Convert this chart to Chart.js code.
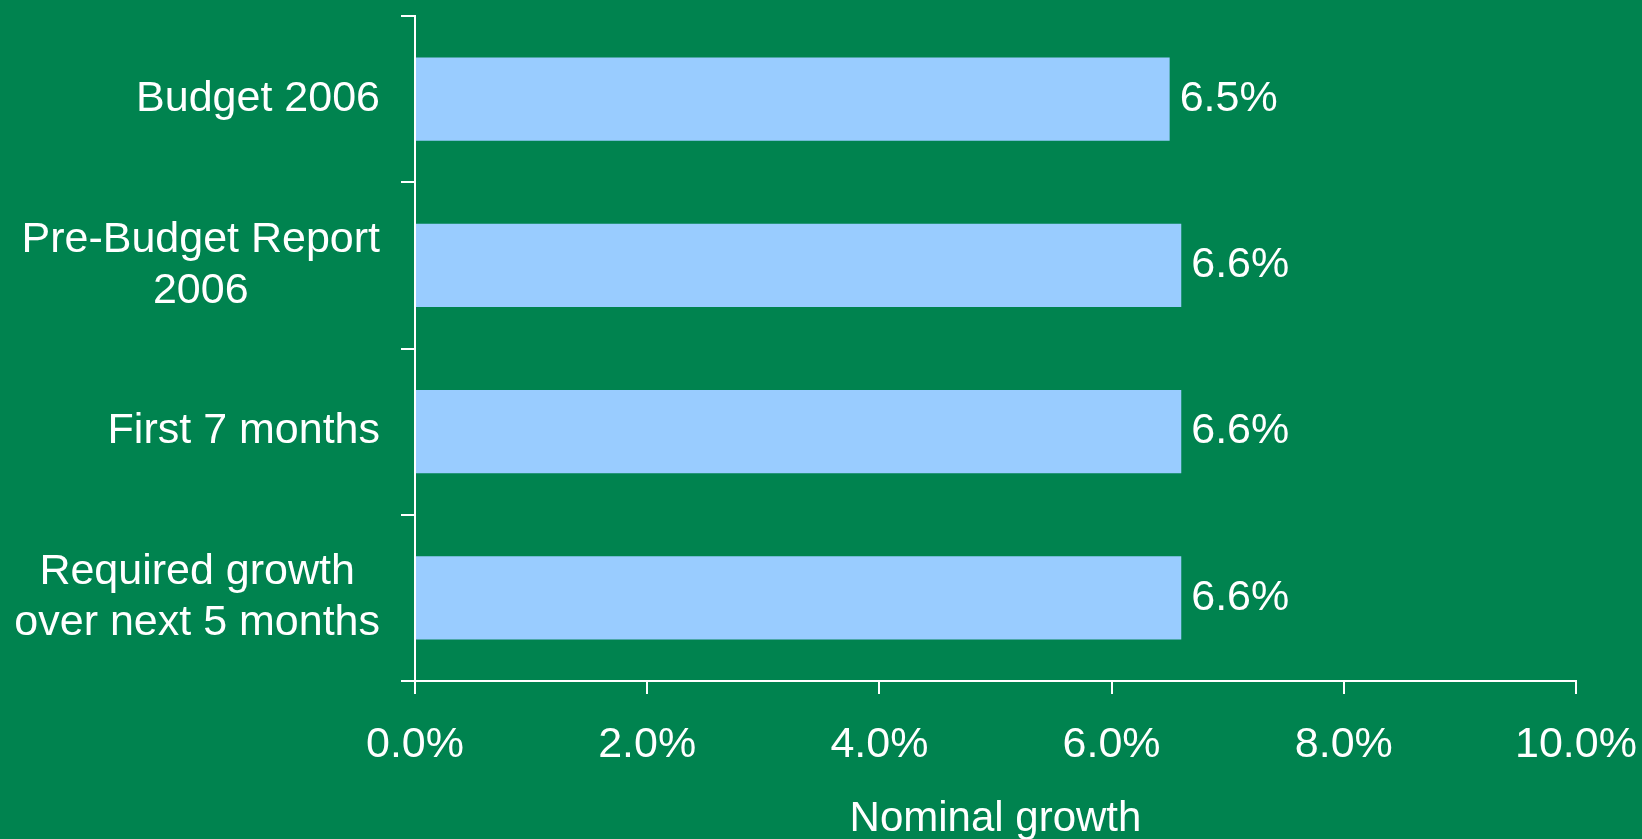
<!DOCTYPE html>
<html>
<head>
<meta charset="utf-8">
<script src="https://cdn.jsdelivr.net/npm/chart.js@4.4.1/dist/chart.umd.min.js"></script>
<style>
    html, body { margin: 0; padding: 0; background: #00834F; }
    #wrap { width: 1642px; height: 839px; position: relative; }
</style>
</head>
<body>
<div id="wrap"><canvas id="growthChart"></canvas></div>
<script>
// Chart data
const categories = [
    ['Budget 2006'],
    ['Pre-Budget Report', '2006'],
    ['First 7 months'],
    ['Required growth', 'over next 5 months']
];
const growthValues = [6.5, 6.6, 6.6, 6.6];
const xTickValues = [0, 2, 4, 6, 8, 10];
const axisTitle = 'Nominal growth';

const FONT = 'Liberation Sans, Arial, sans-serif';
const BG = '#00834F';

// Paint the green background behind everything
const bgPlugin = {
    id: 'bgFill',
    beforeDraw(chart) {
        const c = chart.ctx;
        c.save();
        c.fillStyle = BG;
        c.fillRect(0, 0, chart.width, chart.height);
        c.restore();
    }
};

// Category labels: right-aligned block, lines centred inside it
const catLabels = {
    id: 'catLabels',
    afterDraw(chart) {
        const c = chart.ctx;
        const yScale = chart.scales.y;
        const right = chart.chartArea.left - 35;
        c.save();
        c.font = '43px ' + FONT;
        c.fillStyle = '#ffffff';
        c.textAlign = 'center';
        c.textBaseline = 'middle';
        categories.forEach((lines, i) => {
            const y = yScale.getPixelForValue(i);
            const maxW = Math.max(...lines.map(l => c.measureText(l).width));
            const cx = right - maxW / 2;
            const lh = 51;
            const start = y - (lines.length - 1) * lh / 2;
            lines.forEach((l, j) => c.fillText(l, cx, start + j * lh));
        });
        c.restore();
    }
};

// Value labels at the end of each bar
const valueLabels = {
    id: 'valueLabels',
    afterDatasetsDraw(chart) {
        const c = chart.ctx;
        const meta = chart.getDatasetMeta(0);
        c.save();
        c.font = '43px ' + FONT;
        c.fillStyle = '#ffffff';
        c.textAlign = 'left';
        c.textBaseline = 'middle';
        meta.data.forEach((bar, i) => {
            c.fillText(growthValues[i].toFixed(1) + '%', bar.x + 10, bar.y);
        });
        c.restore();
    }
};

const ctx = document.getElementById('growthChart').getContext('2d');
new Chart(ctx, {
    type: 'bar',
    data: {
        labels: categories.map(l => l.join(' ')),
        datasets: [{
            data: growthValues,
            backgroundColor: '#99CCFF',
            borderWidth: 0,
            barPercentage: 0.5,
            categoryPercentage: 1.0
        }]
    },
    options: {
        indexAxis: 'y',
        responsive: true,
        maintainAspectRatio: false,
        animation: false,
        layout: { padding: { top: 16, right: 66, left: 0, bottom: 0 } },
        scales: {
            x: {
                min: 0,
                max: 10,
                afterBuildTicks(scale) {
                    scale.ticks = xTickValues.map(v => ({ value: v }));
                },
                afterFit(scale) {
                    scale.height = 158;
                    scale.paddingLeft = 0;
                    scale.paddingRight = 0;
                },
                ticks: {
                    color: '#ffffff',
                    font: { family: FONT, size: 43 },
                    padding: 25,
                    maxRotation: 0,
                    callback: v => v.toFixed(1) + '%'
                },
                grid: {
                    drawOnChartArea: false,
                    drawTicks: true,
                    tickLength: 13,
                    color: '#ffffff',
                    lineWidth: 2
                },
                border: { display: true, color: '#ffffff', width: 2 },
                title: {
                    display: true,
                    text: axisTitle,
                    color: '#ffffff',
                    font: { family: FONT, size: 42, lineHeight: 1 },
                    padding: { top: 0, bottom: -1 }
                }
            },
            y: {
                afterFit(scale) { scale.width = 415; },
                ticks: { display: false },
                grid: {
                    offset: true,
                    drawOnChartArea: false,
                    drawTicks: true,
                    tickLength: 14,
                    color: '#ffffff',
                    lineWidth: 2
                },
                border: { display: true, color: '#ffffff', width: 2 }
            }
        },
        plugins: {
            legend: { display: false },
            tooltip: { enabled: false }
        }
    },
    plugins: [bgPlugin, catLabels, valueLabels]
});
</script>
</body>
</html>
